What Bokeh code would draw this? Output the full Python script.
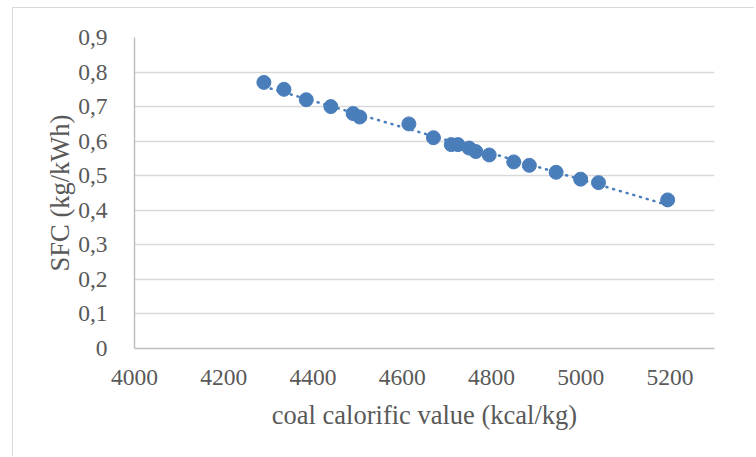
import numpy as np
from bokeh.plotting import figure
from bokeh.models import FixedTicker, Range1d
from bokeh.embed import file_html
from bokeh.resources import INLINE

# data
calorific = [4290, 4335, 4385, 4440, 4490, 4505, 4615, 4670, 4710, 4725,
             4750, 4765, 4795, 4850, 4885, 4945, 5000, 5040, 5195]
sfc = [0.77, 0.75, 0.72, 0.70, 0.68, 0.67, 0.65, 0.61, 0.59, 0.59,
       0.58, 0.57, 0.56, 0.54, 0.53, 0.51, 0.49, 0.48, 0.43]

x_ticks = [4000, 4200, 4400, 4600, 4800, 5000, 5200]
y_ticks = [0, 0.1, 0.2, 0.3, 0.4, 0.5, 0.6, 0.7, 0.8, 0.9]
y_tick_labels = ["0", "0,1", "0,2", "0,3", "0,4", "0,5", "0,6", "0,7", "0,8", "0,9"]

FONT = "Liberation Serif"
BLUE = "#4A7EBB"
TXT = "#595959"

p = figure(width=742, height=449, output_backend="svg", toolbar_location=None,
           x_range=Range1d(4000, 5300), y_range=Range1d(0, 0.9),
           min_border_left=121, min_border_right=41, min_border_top=29,
           min_border_bottom=109)
p.styles = {"border-left": "1px solid #d9d9d9", "border-top": "1px solid #d9d9d9",
            "margin-left": "12px", "margin-top": "7px"}
p.outline_line_color = None
p.background_fill_color = "white"
p.border_fill_color = "white"

# trendline (linear fit of the data)
k, b = np.polyfit(calorific, sfc, 1)
tx = [min(calorific), max(calorific)]
ty = [k * tx[0] + b, k * tx[1] + b]
p.line(tx, ty, line_color=BLUE, line_width=2.5, line_dash="1 6", line_cap="round")

p.scatter(calorific, sfc, size=14, fill_color=BLUE, line_color=BLUE)

p.xaxis.ticker = FixedTicker(ticks=x_ticks)
p.yaxis.ticker = FixedTicker(ticks=y_ticks)
p.yaxis.major_label_overrides = {t: l for t, l in zip(y_ticks, y_tick_labels)}

for ax in (p.xaxis[0], p.yaxis[0]):
    ax.axis_line_color = "#bfbfbf"
    ax.axis_line_width = 1.5
    ax.major_tick_line_color = None
    ax.minor_tick_line_color = None
    ax.major_label_text_font = FONT
    ax.major_label_text_font_size = "23.5px"
    ax.major_label_text_color = TXT
    ax.axis_label_text_font = FONT
    ax.axis_label_text_font_size = "26.5px"
    ax.axis_label_text_color = TXT
    ax.axis_label_text_font_style = "normal"

p.xaxis.axis_label = "coal calorific value (kcal/kg)"
p.yaxis.axis_label = "SFC (kg/kWh)"
p.xaxis.major_label_standoff = 15
p.xaxis.axis_label_standoff = 12
p.yaxis.major_label_standoff = 21
p.yaxis.axis_label_standoff = 0

p.xgrid.grid_line_color = None
p.ygrid.grid_line_color = "#d9d9d9"
p.ygrid.grid_line_width = 1.5

open("out.html", "w").write(file_html(p, INLINE))
